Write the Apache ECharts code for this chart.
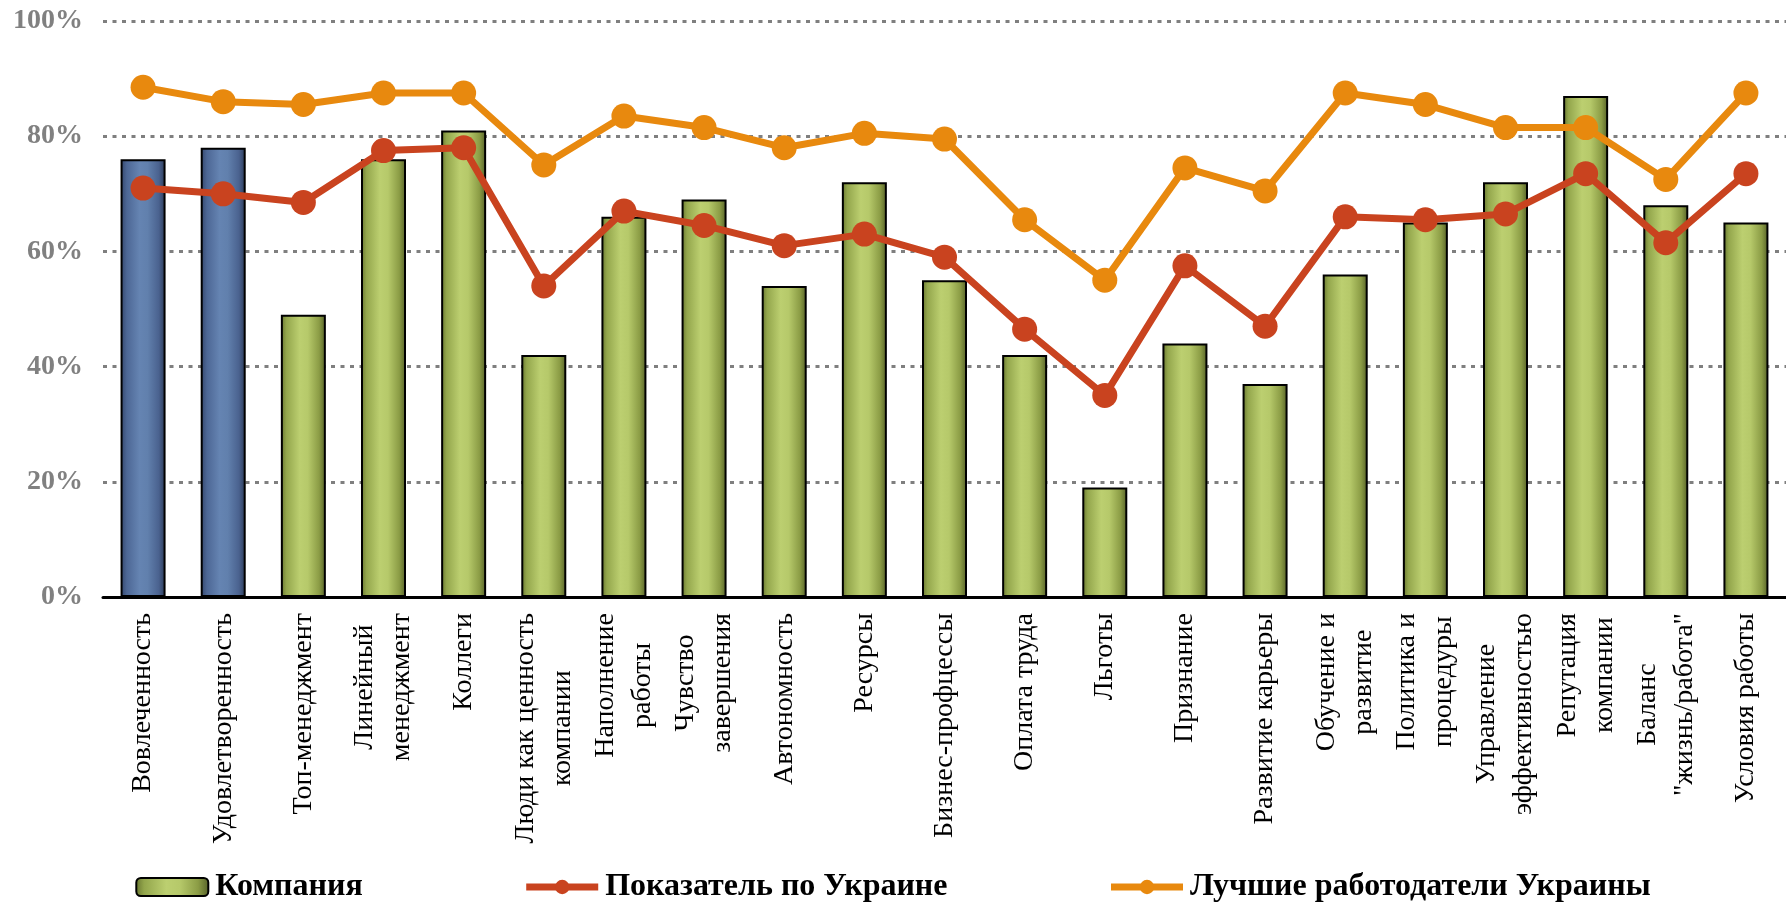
<!DOCTYPE html>
<html>
<head>
<meta charset="utf-8">
<script src="https://cdn.jsdelivr.net/npm/echarts@6/dist/echarts.min.js"></script>
<style>
  html, body { margin: 0; padding: 0; background: #ffffff; }
  #chart { width: 1786px; height: 904px; }
</style>
</head>
<body>
<div id="chart"></div>
<script>
// Survey factors (multi-line names wrap onto a second label line)
const categories = [
  'Вовлеченность',
  'Удовлетворенность',
  'Топ-менеджмент',
  'Линейный\nменеджмент',
  'Коллеги',
  'Люди как ценность\nкомпании',
  'Наполнение\nработы',
  'Чувство\nзавершения',
  'Автономность',
  'Ресурсы',
  'Бизнес-профцессы',
  'Оплата труда',
  'Льготы',
  'Признание',
  'Развитие карьеры',
  'Обучение и\nразвитие',
  'Политика и\nпроцедуры',
  'Управление\nэффективностью',
  'Репутация\nкомпании',
  'Баланс\n"жизнь/работа"',
  'Условия работы'
];

// Scores, %
const companyValues = [76, 78, 49, 76, 81, 42, 66, 69, 54, 72, 55, 42, 19, 44, 37, 56, 65, 72, 87, 68, 65];
const ukraineValues = [71, 70, 68.5, 77.5, 78, 54, 67, 64.5, 61, 63, 59, 46.5, 35, 57.5, 47, 66, 65.5, 66.5, 73.5, 61.5, 73.5];
const bestValues = [88.5, 86, 85.5, 87.5, 87.5, 75, 83.5, 81.5, 78, 80.5, 79.5, 65.5, 55, 74.5, 70.5, 87.5, 85.5, 81.5, 81.5, 72.5, 87.5];

// The first indicators are summary scores and are drawn in blue
const summaryCount = 2;

const seriesNames = ['Компания', 'Показатель по Украине', 'Лучшие работодатели Украины'];
const yTicks = [0, 20, 40, 60, 80, 100];

const FONT = '"Liberation Serif", "Times New Roman", serif';

function cylinder(stops) {
  return new echarts.graphic.LinearGradient(0, 0, 1, 0,
    stops.map(s => ({ offset: s[0], color: s[1] })));
}
const greenFill = cylinder([
  [0, '#66742f'], [0.12, '#93a64c'], [0.42, '#bccf70'], [0.6, '#b6c96a'], [0.85, '#8b9c45'], [1, '#545f28']
]);
const blueFill = cylinder([
  [0, '#33456a'], [0.14, '#4d6795'], [0.42, '#6584b2'], [0.6, '#6180ad'], [0.85, '#4a628f'], [1, '#2b3955']
]);

const barData = companyValues.map((v, i) => i < summaryCount
  ? { value: v, itemStyle: { color: blueFill } }
  : v);

const chart = echarts.init(document.getElementById('chart'), null, { renderer: 'canvas' });

chart.setOption({
  animation: false,
  backgroundColor: '#ffffff',
  grid: { left: 103, top: 21, width: 1694, height: 576, containLabel: false },
  legend: {
    data: seriesNames,
    left: 'center',
    top: 866,
    itemWidth: 72,
    itemHeight: 18,
    itemGap: 160,
    lineStyle: { width: 7 },
    textStyle: { fontFamily: FONT, fontSize: 32, fontWeight: 'bold', color: '#000000', padding: [0, 0, 0, 2] }
  },
  xAxis: {
    type: 'category',
    data: categories,
    axisTick: { show: false },
    axisLine: { show: true, lineStyle: { color: '#000000', width: 3 } },
    axisLabel: {
      interval: 0,
      rotate: 90,
      margin: 16,
      color: '#000000',
      fontFamily: FONT,
      fontSize: 28,
      formatter: v => v.split('\n').map(s => '{c|' + s + '}').join('\n'),
      rich: {
        c: { align: 'center', fontFamily: FONT, fontSize: 28, lineHeight: 37, color: '#000000' }
      }
    }
  },
  yAxis: {
    type: 'value',
    min: yTicks[0],
    max: yTicks[yTicks.length - 1],
    interval: 20,
    axisLine: { show: false },
    axisTick: { show: false },
    axisLabel: {
      margin: 20,
      color: '#808080',
      fontFamily: FONT,
      fontSize: 28,
      fontWeight: 'bold',
      formatter: '{value}%'
    },
    splitLine: { show: true, lineStyle: { color: '#7f7f7f', width: 3, type: [4, 5.5] } }
  },
  series: [
    {
      name: seriesNames[0],
      type: 'bar',
      data: barData,
      barWidth: 45,
      itemStyle: { color: greenFill, borderColor: '#000000', borderWidth: 2 },
      z: 2
    },
    {
      name: seriesNames[1],
      type: 'line',
      data: ukraineValues,
      symbol: 'circle',
      symbolSize: 25,
      lineStyle: { color: '#c9431f', width: 7 },
      itemStyle: { color: '#c9431f' },
      z: 3
    },
    {
      name: seriesNames[2],
      type: 'line',
      data: bestValues,
      symbol: 'circle',
      symbolSize: 25,
      lineStyle: { color: '#e8890e', width: 7 },
      itemStyle: { color: '#e8890e' },
      z: 4
    }
  ]
});
</script>
</body>
</html>
